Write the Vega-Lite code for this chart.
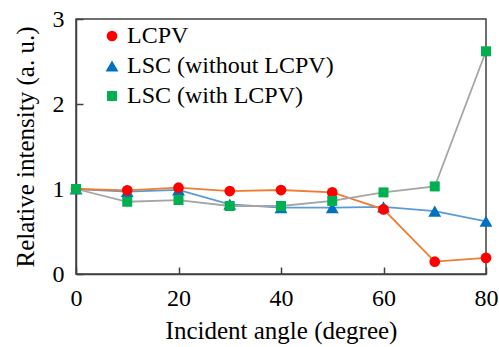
{
  "$schema": "https://vega.github.io/schema/vega-lite/v6.json",
  "width": 410,
  "height": 255,
  "autosize": "none",
  "padding": {"left": 76, "top": 19, "right": 13, "bottom": 73},
  "background": "white",
  "config": {
    "view": {"stroke": "#404040", "strokeWidth": 1.5},
    "axis": {
      "domainColor": "#404040", "domainWidth": 1.5, "tickColor": "#404040", "tickWidth": 1.5,
      "grid": false, "labelFont": "Liberation Serif", "titleFont": "Liberation Serif",
      "labelColor": "#000", "titleColor": "#000", "titleFontWeight": "normal"
    },
    "legend": {"labelFont": "Liberation Serif"}
  },
  "data": {
    "values": [
      {"series": "LSC (without LCPV)", "angle": 0, "value": 1.0},
      {"series": "LSC (without LCPV)", "angle": 10, "value": 0.97},
      {"series": "LSC (without LCPV)", "angle": 20, "value": 0.99},
      {"series": "LSC (without LCPV)", "angle": 30, "value": 0.82},
      {"series": "LSC (without LCPV)", "angle": 40, "value": 0.78},
      {"series": "LSC (without LCPV)", "angle": 50, "value": 0.78},
      {"series": "LSC (without LCPV)", "angle": 60, "value": 0.79},
      {"series": "LSC (without LCPV)", "angle": 70, "value": 0.74},
      {"series": "LSC (without LCPV)", "angle": 80, "value": 0.62},
      {"series": "LCPV", "angle": 0, "value": 1.0},
      {"series": "LCPV", "angle": 10, "value": 0.985},
      {"series": "LCPV", "angle": 20, "value": 1.015},
      {"series": "LCPV", "angle": 30, "value": 0.976},
      {"series": "LCPV", "angle": 40, "value": 0.988},
      {"series": "LCPV", "angle": 50, "value": 0.96},
      {"series": "LCPV", "angle": 60, "value": 0.76},
      {"series": "LCPV", "angle": 70, "value": 0.145},
      {"series": "LCPV", "angle": 80, "value": 0.19},
      {"series": "LSC (with LCPV)", "angle": 0, "value": 1.0},
      {"series": "LSC (with LCPV)", "angle": 10, "value": 0.85},
      {"series": "LSC (with LCPV)", "angle": 20, "value": 0.87},
      {"series": "LSC (with LCPV)", "angle": 30, "value": 0.8},
      {"series": "LSC (with LCPV)", "angle": 40, "value": 0.8},
      {"series": "LSC (with LCPV)", "angle": 50, "value": 0.86},
      {"series": "LSC (with LCPV)", "angle": 60, "value": 0.96},
      {"series": "LSC (with LCPV)", "angle": 70, "value": 1.03},
      {"series": "LSC (with LCPV)", "angle": 80, "value": 2.62}
    ]
  },
  "encoding": {
    "x": {
      "field": "angle", "type": "quantitative",
      "scale": {"domain": [0, 80], "nice": false},
      "axis": {"values": [0, 20, 40, 60, 80], "tickSize": -7, "labelFontSize": 24, "labelPadding": 19, "title": "Incident angle (degree)", "titleFontSize": 25, "titlePadding": 8, "labelFlush": false}
    },
    "y": {
      "field": "value", "type": "quantitative",
      "scale": {"domain": [0, 3], "nice": false},
      "axis": {"values": [0, 1, 2, 3], "tickSize": -7, "labelFontSize": 24, "labelPadding": 19, "title": "Relative intensity (a. u.)", "titleFontSize": 25, "titlePadding": 14, "labelFlush": false}
    }
  },
  "layer": [
    {
      "transform": [{"filter": "datum.series === 'LSC (without LCPV)'"}],
      "mark": {"type": "line", "strokeWidth": 1.8, "color": "#5B9BD5"}
    },
    {
      "transform": [{"filter": "datum.series === 'LCPV'"}],
      "mark": {"type": "line", "strokeWidth": 1.8, "color": "#ED7D31"}
    },
    {
      "transform": [{"filter": "datum.series === 'LSC (with LCPV)'"}],
      "mark": {"type": "line", "strokeWidth": 1.8, "color": "#A5A5A5"}
    },
    {
      "mark": {"type": "point", "filled": true, "opacity": 1},
      "encoding": {
        "color": {
          "field": "series", "type": "nominal",
          "scale": {"domain": ["LCPV", "LSC (without LCPV)", "LSC (with LCPV)"], "range": ["#FF0000", "#0070C0", "#00B050"]},
          "legend": {"title": null, "orient": "none", "legendX": 24, "legendY": 5, "labelFontSize": 24, "labelColor": "#000", "labelLimit": 400, "rowPadding": 6, "labelOffset": 3, "padding": 0}
        },
        "shape": {
          "field": "series", "type": "nominal",
          "scale": {"domain": ["LCPV", "LSC (without LCPV)", "LSC (with LCPV)"], "range": ["circle", "triangle-up", "square"]}
        },
        "size": {
          "field": "series", "type": "nominal",
          "scale": {"type": "ordinal", "domain": ["LCPV", "LSC (without LCPV)", "LSC (with LCPV)"], "range": [115, 165, 100]}
        }
      }
    }
  ]
}
